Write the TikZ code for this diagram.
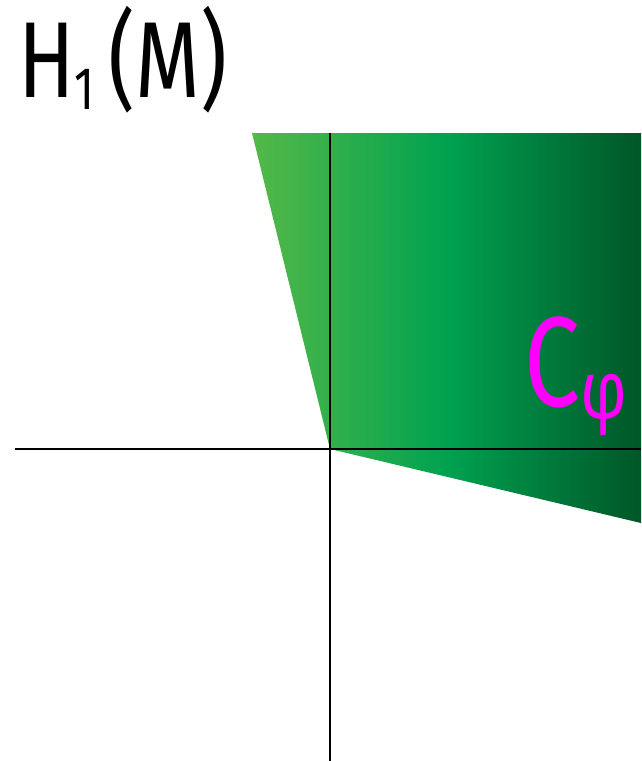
\documentclass[tikz,border=0pt]{standalone}
\usepackage{fontspec}
\setsansfont{Fira Sans}
\usepackage{tikz}
\usetikzlibrary{positioning, calc}
\definecolor{coneleft}{RGB}{84,185,72}
\definecolor{conemid}{RGB}{0,162,80}
\definecolor{coneright}{RGB}{0,86,40}
\definecolor{labelpink}{RGB}{255,0,255}

\begin{document}
\begin{tikzpicture}[x=1pt, y=-1pt]
\tikzstyle{cone}=[shading=axis, left color=coneleft, right color=coneright,
  middle color=conemid, draw=none]
\tikzstyle{axis}=[line width=2pt, black]
\tikzstyle{handlabel}=[inner sep=0pt, font=\sffamily\fontsize{108}{108}\selectfont]
\tikzstyle{conefont}=[inner sep=0pt, font=\sffamily\fontsize{128}{128}\selectfont]

\useasboundingbox[fill=white] (0,0) rectangle (641,761);

% corner points of the cone and axes
\coordinate (origin) at (330,449);
\coordinate (topleft) at (252,133);
\coordinate (topright) at (641,133);
\coordinate (lowright) at (641,523);

\coordinate (xleft) at (15,449);
\coordinate (xright) at (641,449);
\coordinate (ytop) at (330,133);
\coordinate (ybottom) at (330,761);

% the cone
\path [cone] (origin) -- (topleft) -- (topright) -- (lowright) -- cycle;

% axes
\draw [axis] (xleft) -- (xright);
\draw [axis] (ytop) -- (ybottom);

% labels
\node (homology) [handlabel, anchor=base west] at (18,97)
  {\scalebox{0.77}[1]{H\raisebox{-12pt}{\fontsize{60}{60}\selectfont 1}\,(M)}};
\node (conelabel) [conefont, text=labelpink, anchor=base west] at (524,406)
  {\scalebox{0.78}[1]{C\raisebox{-12pt}{\fontsize{82}{82}\selectfont φ}}};
\end{tikzpicture}
\end{document}
